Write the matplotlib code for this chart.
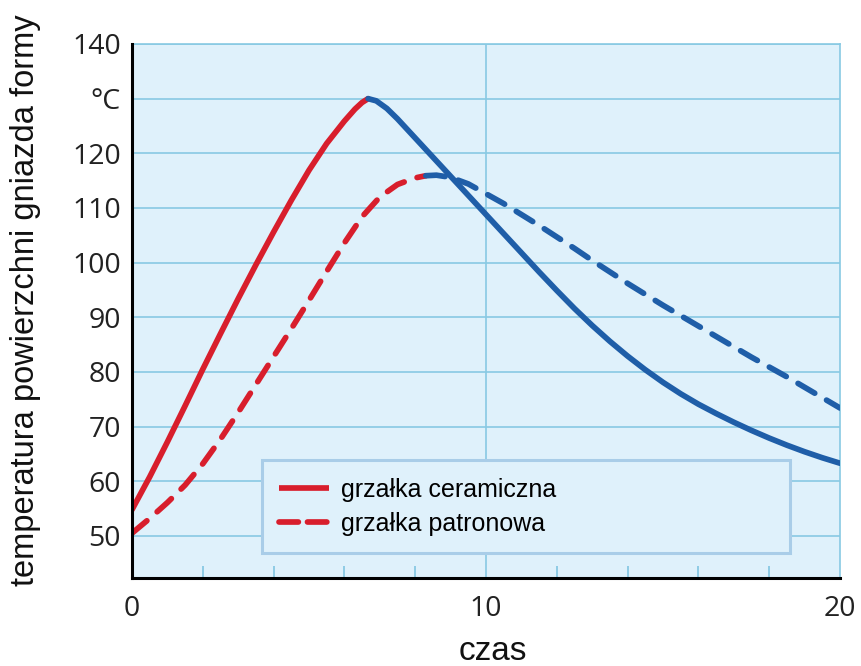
import matplotlib
matplotlib.use("Agg")
import matplotlib.pyplot as plt
from matplotlib.lines import Line2D

# --- data ---
cer_rise_x = [0, 0.5, 1, 1.5, 2, 2.5, 3, 3.5, 4, 4.5, 5, 5.5, 6, 6.3, 6.5, 6.67]
cer_rise_y = [54.8, 60.8, 67.2, 73.8, 80.5, 87, 93.4, 99.6, 105.6, 111.4, 116.9, 121.8, 125.9,
              128.1, 129.3, 130]
cer_fall_x = [6.67, 6.9, 7.2, 7.5, 8, 8.5, 9, 9.5, 10, 10.5, 11, 11.5, 12, 12.5, 13, 13.5, 14, 14.5,
              15, 15.5, 16, 16.5, 17, 17.5, 18, 18.5, 19, 19.5, 20]
cer_fall_y = [130, 129.6, 128.2, 126.3, 122.8, 119.3, 115.8, 112.3, 108.8, 105.3, 101.8, 98.3, 94.9,
              91.6, 88.5, 85.6, 82.9, 80.4, 78.1, 76, 74.1, 72.4, 70.8, 69.3, 67.9, 66.6, 65.4,
              64.3, 63.3]

pat_rise_x = [0, 0.5, 1, 1.5, 2, 2.5, 3, 3.5, 4, 4.5, 5, 5.5, 6, 6.5, 7, 7.5, 8, 8.3]
pat_rise_y = [50.5, 53.2, 56.1, 59.3, 63.2, 67.7, 72.6, 77.7, 82.8, 87.9, 93.1, 98.4, 103.6, 108.4,
              112.0, 114.3, 115.5, 115.9]
pat_fall_x = [8.3, 8.6, 9, 9.5, 10, 10.5, 11, 11.5, 12, 12.5, 13, 13.5, 14, 14.5, 15, 15.5,
              16, 16.5, 17, 17.5, 18, 18.5, 19, 19.5, 20]
pat_fall_y = [115.9, 116, 115.6, 114.4, 112.6, 110.8, 108.8, 106.8, 104.7, 102.6, 100.4, 98.3,
              96.2, 94.2, 92.2, 90.3, 88.4, 86.5, 84.6, 82.7, 80.9, 79.1, 77.2, 75.3, 73.4]

labels = ["grzałka ceramiczna", "grzałka patronowa"]
ytick_vals = [50, 60, 70, 80, 90, 100, 110, 120, 130, 140]
ytick_labels = ["50", "60", "70", "80", "90", "100", "110", "120", "°C", "140"]
xtick_vals = [0, 10, 20]
xminor_vals = [2, 4, 6, 8, 12, 14, 16, 18]

RED = "#d81e2c"
BLUE = "#1f5ea8"
BG = "#dff1fb"
GRID = "#88c9e3"

fig = plt.figure(figsize=(8.62, 6.66), dpi=100)
ax = fig.add_axes([132/862, 1-578/666, 708/862, 534/666])
ax.set_facecolor(BG)
ax.set_xlim(0, 20)
ax.set_ylim(42.3, 140)

for yv in ytick_vals:
    ax.axhline(yv, color=GRID, lw=1.2, zorder=1)
ax.axvline(10, color=GRID, lw=1.2, zorder=1)

lw = 4.1
dash = (3.4, 2.4)
ax.plot(cer_rise_x, cer_rise_y, color=RED, lw=lw, solid_capstyle="round",
        solid_joinstyle="round", zorder=3)
ax.plot(cer_fall_x, cer_fall_y, color=BLUE, lw=lw, solid_capstyle="round",
        solid_joinstyle="round", zorder=3)
ax.plot(pat_rise_x, pat_rise_y, color=RED, lw=lw, dashes=dash, dash_capstyle="round",
        dash_joinstyle="round", zorder=3)
ax.plot(pat_fall_x, pat_fall_y, color=BLUE, lw=lw, dashes=dash, dash_capstyle="round",
        dash_joinstyle="round", zorder=3)

for s in ["top", "right"]:
    ax.spines[s].set_color(GRID)
    ax.spines[s].set_linewidth(1.2)
for s in ["left", "bottom"]:
    ax.spines[s].set_color("black")
    ax.spines[s].set_linewidth(2.2)
    ax.spines[s].set_zorder(5)

tickfont = "Open Sans"
ax.set_yticks(ytick_vals)
ax.set_yticklabels(ytick_labels, fontsize=20.5, family=tickfont, color="#222222")
ax.tick_params(axis="y", length=0, pad=8)
ax.set_xticks(xtick_vals)
ax.set_xticklabels([str(v) for v in xtick_vals], fontsize=20.5, family=tickfont, color="#222222")
ax.set_xticks(xminor_vals, minor=True)
ax.tick_params(axis="x", which="major", length=0, pad=12)
ax.tick_params(axis="x", which="minor", direction="in", length=9, width=1.3, color=GRID)

ax.set_ylabel("temperatura powierzchni gniazda formy", fontsize=23.5,
              family="Liberation Sans", color="#111111", va="center")
ax.yaxis.set_label_coords(-0.151, 0.52)
ax.set_xlabel("czas", fontsize=24, family="Liberation Sans", color="#111111", va="center")
ax.xaxis.set_label_coords(0.51, -0.137)

handles = [Line2D([], [], color=RED, lw=lw, solid_capstyle="butt"),
           Line2D([], [], color=RED, lw=lw, dashes=(3.4, 1.6), dash_capstyle="round")]
leg = ax.legend(handles, labels, loc="upper left",
                bbox_to_anchor=(130/708, 118/534, 528/708, 0), mode="expand",
                prop={"family": "Liberation Sans", "size": 18}, handlelength=2.0,
                handletextpad=0.45, borderpad=0.7, labelspacing=0.4,
                frameon=True, fancybox=False, borderaxespad=0)
fr = leg.get_frame()
fr.set_facecolor(BG)
fr.set_edgecolor("#a9cde8")
fr.set_linewidth(2.2)
fr.set_alpha(1)
leg.set_zorder(4)

fig.savefig("out.png", dpi=100, facecolor="white")
